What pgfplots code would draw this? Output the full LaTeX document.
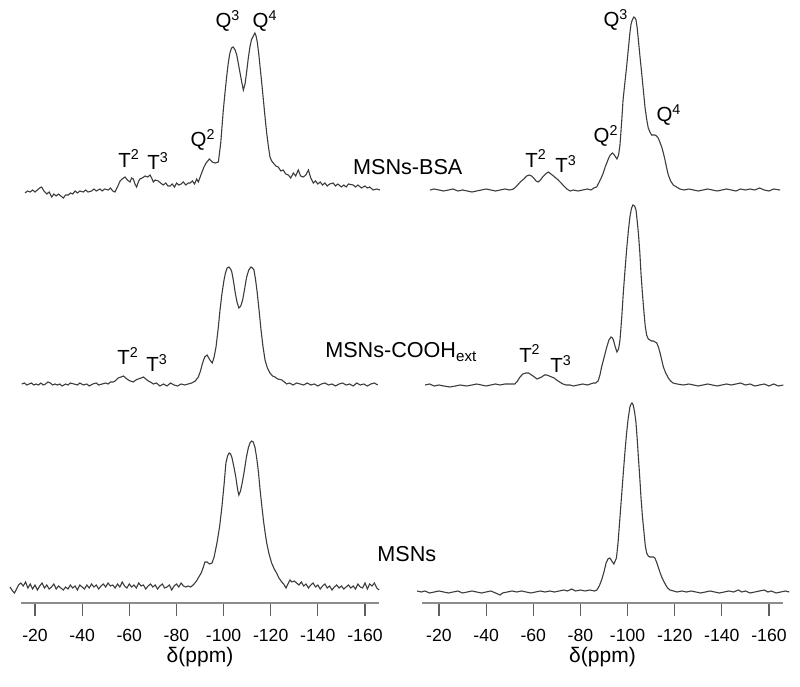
\documentclass[border=0pt]{standalone}
\usepackage{fontspec}
\setmainfont{Liberation Sans}
\usepackage{pgfplots}
\usepackage{pgfplotstable}
\pgfplotsset{compat=1.18}
\definecolor{spec}{HTML}{3C3C3C}
\definecolor{axgray}{HTML}{8C8C8C}
\definecolor{tickgray}{HTML}{606060}

% left panel: MSNs (A), MSNs-COOH (B), MSNs-BSA (C); intensity above baseline
\pgfplotstableread[row sep=\\]{
x y\\ -9.4 0\\ -10.5 -4\\ -11.3 -6\\ -12.2 -2\\ -13 2\\ -14 4\\ -15 1\\ -16 5\\ -17 -1\\ -18 3\\ -19 -2\\ -20 2\\ -21 -3\\ -22 1\\ -23 4\\ -24 -1\\ -25 2\\ -26 -2\\ -27 0\\ -28 3\\ -29 -2\\ -30 1\\ -31 -1\\ -32 -3\\ -33 0\\ -34 -2\\ -35 2\\ -36 -1\\ -37 1\\ -38 -3\\ -39 2\\ -40 0\\ -41 -2\\ -42 2\\ -43 -1\\ -44 3\\ -45 0\\ -46 2\\ -47 -2\\ -48 1\\ -49 3\\ -50 0\\ -51 4\\ -52 1\\ -53 2\\ -54 -1\\ -55 3\\ -56 0\\ -57 5\\ -58 1\\ -59 -1\\ -60 3\\ -61 0\\ -62 2\\ -63 -1\\ -64 4\\ -65 1\\ -66 2\\ -67 -2\\ -68 1\\ -69 3\\ -70 0\\ -71 2\\ -72 -2\\ -73 1\\ -74 3\\ -75 -1\\ -76 0\\ -77 2\\ -78 -3\\ -79 1\\ -80 3\\ -81 0\\ -82 4\\ -83 1\\ -84 0\\ -85 1\\ -86 0\\ -86.6 1\\ -87.5 3\\ -88.5 6\\ -89.5 10\\ -90.5 14\\ -91.3 19\\ -92.1 25\\ -93 25\\ -94 23\\ -95.1 24\\ -96 30\\ -97.2 44\\ -98.3 60\\ -99.3 80\\ -100.2 102\\ -101 124\\ -101.7 131\\ -102.4 134\\ -103 133\\ -103.6 129\\ -104.4 120\\ -105.2 110\\ -106 97\\ -106.5 92\\ -107.2 96\\ -107.9 104\\ -108.8 116\\ -109.7 130\\ -110.5 139\\ -111.2 144\\ -111.9 146\\ -112.6 145\\ -113.3 140\\ -114 130\\ -114.8 115\\ -115.5 97\\ -116.2 82\\ -116.9 67\\ -117.6 55\\ -118.3 44\\ -119.3 33\\ -120.4 24\\ -121.5 18\\ -122.5 14\\ -123.5 9\\ -124.7 5\\ -125.5 3\\ -126.5 -1\\ -127.3 3\\ -128.2 7\\ -129 5\\ -130 6\\ -131 4\\ -132 2\\ -133 5\\ -134 1\\ -135 3\\ -136 -1\\ -137 2\\ -138 4\\ -139 0\\ -140 2\\ -141 -2\\ -142 1\\ -143 3\\ -144 -1\\ -145 1\\ -146 -3\\ -147 0\\ -148 2\\ -149 -1\\ -150 1\\ -151 -2\\ -152 0\\ -153 2\\ -154 -1\\ -155 1\\ -156 -2\\ -157 3\\ -158 0\\ -159 -1\\ -160 4\\ -161 -2\\ -162 3\\ -163 1\\ -164 4\\ -165 -1\\ -166 -3\\
}\LA
\pgfplotstableread[row sep=\\]{
x y\\ -14.4 0\\ -15.5 1\\ -16.5 -1\\ -17.5 0\\ -18.5 1\\ -19.5 -1\\ -20.5 0\\ -21.5 -1\\ -22.5 1\\ -23.5 -1\\ -24.5 0\\ -25.5 2\\ -26.5 1\\ -27.5 -1\\ -28.5 0\\ -29.5 -1\\ -30.5 0\\ -31.5 -2\\ -33 0\\ -34 -1\\ -35 1\\ -36.5 0\\ -38 -1\\ -39 1\\ -40.5 -1\\ -42 0\\ -43 -2\\ -44.5 0\\ -46 1\\ -47 -1\\ -48.5 0\\ -50 1\\ -51 0\\ -52 2\\ -53.1 2\\ -54 3\\ -55.3 6\\ -56.5 7\\ -57.5 8\\ -58.5 6\\ -59.6 4\\ -60.5 3\\ -61.7 2\\ -62.8 4\\ -63.8 5\\ -65 6\\ -66 7\\ -67 5\\ -68.1 3\\ -69 2\\ -70.2 0\\ -71.5 1\\ -73 -2\\ -74.5 0\\ -76 -2\\ -77.5 1\\ -79 -1\\ -80.5 -2\\ -82 0\\ -83.5 -1\\ -85 0\\ -86.5 1\\ -88 3\\ -89.3 7\\ -90.2 13\\ -91.1 21\\ -92 27\\ -93 29\\ -94.2 24\\ -95.2 21\\ -96 27\\ -96.8 37\\ -97.7 55\\ -98.5 74\\ -99.3 90\\ -100.2 104\\ -100.8 111\\ -101.5 116\\ -102.3 117\\ -103 115\\ -103.5 112\\ -104.2 103\\ -104.9 92\\ -105.7 82\\ -106.5 76\\ -107.3 78\\ -108.1 84\\ -109 96\\ -109.8 107\\ -110.7 114\\ -111.6 117\\ -112.3 116\\ -112.9 114\\ -113.6 104\\ -114.3 91\\ -115.1 73\\ -115.9 54\\ -116.7 38\\ -117.6 24\\ -118.6 16\\ -119.7 11\\ -120.8 8\\ -121.8 7\\ -123 5\\ -124.7 4\\ -125.8 2\\ -126.8 0\\ -128 1\\ -129.5 -1\\ -131 1\\ -132.5 0\\ -134 -1\\ -135.5 1\\ -137 -1\\ -138.5 0\\ -140 -2\\ -141.5 0\\ -143 1\\ -144.5 -1\\ -146 0\\ -147.5 -2\\ -149 0\\ -150.5 1\\ -152 -1\\ -153.5 0\\ -155 -2\\ -156.5 1\\ -158 -1\\ -159.5 0\\ -161 -2\\ -162.5 0\\ -164 1\\ -165.4 -1\\
}\LB
\pgfplotstableread[row sep=\\]{
x y\\ -15.8 -3\\ -16.8 -1\\ -17.9 -2\\ -19 0\\ -20 -2\\ -21 0\\ -22 2\\ -22.8 3\\ -23.8 -1\\ -25 -4\\ -26 -2\\ -27.1 -7\\ -28 -4\\ -29 -6\\ -29.9 -4\\ -31 -6\\ -32 -8\\ -33 -5\\ -34.1 -5\\ -35 -3\\ -36 -4\\ -37 -1\\ -38 -3\\ -39 -1\\ -40.5 -2\\ -41.5 0\\ -42.5 -2\\ -44 -1\\ -45 1\\ -46 -1\\ -47.6 1\\ -48.5 -1\\ -49.5 1\\ -51.1 0\\ -52 2\\ -53 -1\\ -53.9 -2\\ -55 3\\ -56.1 9\\ -57 11\\ -58.2 13\\ -59.2 10\\ -60.3 8\\ -61 12\\ -61.7 11\\ -62.4 6\\ -63.1 3\\ -64 9\\ -64.5 11\\ -65.5 12\\ -66.7 14\\ -67.8 13\\ -68.8 15\\ -69.5 12\\ -70.2 8\\ -71 10\\ -72.3 9\\ -73.3 7\\ -74.4 5\\ -75.5 7\\ -76.4 4\\ -77.3 4\\ -78.2 6\\ -79.2 3\\ -80.1 7\\ -81 5\\ -82 6\\ -82.9 8\\ -84 5\\ -85 7\\ -85.8 7\\ -86.8 9\\ -87.7 6\\ -88.6 11\\ -89.3 8\\ -90.7 17\\ -91.7 23\\ -92.6 27\\ -94 31\\ -95.2 28\\ -96.4 27\\ -97.8 28\\ -98.8 47\\ -99.9 80\\ -100.6 97\\ -101.3 113\\ -102 127\\ -102.7 137\\ -103.4 142\\ -104.1 143\\ -104.9 140\\ -105.6 135\\ -106.3 126\\ -107 117\\ -107.7 108\\ -108.4 100\\ -109.1 106\\ -109.8 118\\ -110.5 132\\ -111.2 143\\ -111.8 150\\ -112.4 153\\ -113.3 157\\ -113.8 154\\ -114.3 148\\ -114.9 137\\ -115.5 123\\ -116.2 107\\ -116.9 90\\ -117.6 73\\ -118.3 57\\ -119 44\\ -119.7 33\\ -120.4 29\\ -121.1 27\\ -122.2 24\\ -123.2 23\\ -124.3 19\\ -125.3 20\\ -126.4 16\\ -127.5 15\\ -128.5 12\\ -129.6 17\\ -130.6 14\\ -131.7 20\\ -132.7 14\\ -133.8 13\\ -134.9 15\\ -136 20\\ -137 12\\ -138.1 7\\ -139 9\\ -140 6\\ -141 8\\ -142 5\\ -143 7\\ -144 4\\ -145 6\\ -146.5 7\\ -147.5 4\\ -148.5 6\\ -150 3\\ -151 5\\ -152 3\\ -153 6\\ -155 5\\ -156 3\\ -157 5\\ -158.5 2\\ -160 4\\ -161 2\\ -162 3\\ -163.5 0\\ -165 1\\ -166.4 0\\
}\LC
% right panel
\pgfplotstableread[row sep=\\]{
x y\\ -10.7 1\\ -12.5 0\\ -14 1\\ -16 -1\\ -18 0\\ -20 1\\ -22 0\\ -24 -1\\ -26 0\\ -28 1\\ -30 -1\\ -32 0\\ -34 1\\ -36 0\\ -38 -1\\ -40 0\\ -42 1\\ -44 -1\\ -45.9 -3\\ -47 -1\\ -49 0\\ -51 1\\ -53 0\\ -55 1\\ -57 0\\ -59 -1\\ -61 0\\ -63 1\\ -65 0\\ -67 1\\ -69 0\\ -71 1\\ -73 2\\ -74.5 1\\ -76.3 3\\ -78 1\\ -80 2\\ -82 1\\ -84 2\\ -86 1\\ -87 2\\ -88 6\\ -89 12\\ -90 20\\ -90.9 29\\ -91.7 33\\ -92.5 34\\ -93.3 31\\ -94.2 28\\ -95.3 34\\ -96 50\\ -96.8 75\\ -97.5 97\\ -98.2 119\\ -98.9 140\\ -99.6 159\\ -100.3 174\\ -101 185\\ -101.5 188\\ -101.9 189\\ -102.4 187\\ -103 180\\ -103.6 169\\ -104.1 153\\ -104.6 135\\ -105.2 114\\ -105.7 95\\ -106.3 76\\ -107 59\\ -107.5 47\\ -108.1 39\\ -108.8 36\\ -109.5 35\\ -110.4 35\\ -111 35\\ -111.6 34\\ -112.3 30\\ -113 25\\ -113.7 20\\ -114.5 15\\ -115.3 11\\ -116.2 7\\ -117 4\\ -118 2\\ -119.5 1\\ -121 0\\ -123 1\\ -125 0\\ -127 1\\ -129 0\\ -131 -1\\ -133 0\\ -135 1\\ -137 0\\ -139 -1\\ -141 0\\ -143 1\\ -145 0\\ -147 2\\ -148.5 0\\ -150 1\\ -152 -1\\ -154 0\\ -156 1\\ -158 2\\ -159.5 0\\ -161 1\\ -163 -1\\ -165 0\\ -167 1\\ -168.6 0\\
}\RA
\pgfplotstableread[row sep=\\]{
x y\\ -14.1 0\\ -16 1\\ -18 -1\\ -20 0\\ -22 -1\\ -24.7 -2\\ -27 -1\\ -29 0\\ -31.8 -1\\ -34 0\\ -36 1\\ -38 0\\ -40 -1\\ -42 0\\ -44 1\\ -46 0\\ -48 1\\ -50.1 1\\ -52.2 1\\ -53.3 4\\ -54.4 8\\ -55.6 11\\ -56.9 12\\ -58 12\\ -59.3 10\\ -60.5 8\\ -61.6 6\\ -62.6 7\\ -63.6 8\\ -64.7 10\\ -65.8 10\\ -66.8 9\\ -67.8 8\\ -68.9 7\\ -69.9 5\\ -71.2 3\\ -72.6 1\\ -74 0\\ -75.6 0\\ -77 -1\\ -79 0\\ -81 1\\ -83 0\\ -85.5 2\\ -86.5 2\\ -87.5 4\\ -88.3 10\\ -89 18\\ -90.1 28\\ -91.2 38\\ -92.1 45\\ -93 48\\ -93.6 47\\ -94 45\\ -94.8 38\\ -95.5 33\\ -96.2 36\\ -96.8 45\\ -97.5 66\\ -98.2 92\\ -98.9 114\\ -99.6 135\\ -100.3 153\\ -101 168\\ -101.7 177\\ -102.3 180\\ -103 179\\ -103.6 175\\ -104.1 164\\ -104.6 152\\ -105.2 133\\ -105.7 112\\ -106.3 92\\ -107 72\\ -107.5 59\\ -108.1 50\\ -108.8 46\\ -109.5 45\\ -110.2 44\\ -111 44\\ -111.7 43\\ -112.4 42\\ -113.1 38\\ -113.8 32\\ -114.5 25\\ -115.2 18\\ -116.2 12\\ -117.3 7\\ -118.3 4\\ -119.3 2\\ -121 1\\ -123.7 0\\ -126 1\\ -128 0\\ -130 -1\\ -132 0\\ -134 1\\ -136 0\\ -138 -1\\ -140 0\\ -142 1\\ -144 0\\ -146 1\\ -148 2\\ -150 0\\ -152 1\\ -154 -1\\ -156 0\\ -158 1\\ -160 -1\\ -162 1\\ -164 -1\\ -166.1 0\\
}\RB
\pgfplotstableread[row sep=\\]{
x y\\ -16.2 0\\ -18 1\\ -20 0\\ -22 -1\\ -24 0\\ -26 1\\ -28 -1\\ -30 0\\ -32 -1\\ -34 -2\\ -36 -1\\ -38 0\\ -40 1\\ -42 0\\ -44 -1\\ -46 0\\ -48 1\\ -50 0\\ -51.6 1\\ -53 4\\ -54.5 8\\ -56 11\\ -57.2 14\\ -58.3 15\\ -59.3 14\\ -60.2 12\\ -61.2 9\\ -62.1 8\\ -63 10\\ -64 13\\ -65.2 16\\ -66.4 18\\ -67.5 16\\ -68.6 14\\ -69.6 12\\ -70.6 10\\ -71.8 7\\ -73 4\\ -74.3 1\\ -75.6 -1\\ -77 0\\ -79 -1\\ -81 0\\ -83 1\\ -84.5 0\\ -85.7 2\\ -86.9 3\\ -88 8\\ -89 13\\ -89.7 17\\ -90.5 23\\ -91.2 27\\ -92 32\\ -92.7 35\\ -93.6 37\\ -94.4 35\\ -95.5 31\\ -96.2 35\\ -96.8 45\\ -97.5 68\\ -98.1 90\\ -98.9 108\\ -99.6 123\\ -100.3 140\\ -101 157\\ -101.5 166\\ -102 170\\ -102.7 173\\ -103.2 172\\ -103.6 170\\ -104.1 162\\ -104.6 150\\ -105.3 133\\ -106 117\\ -106.7 100\\ -107.4 83\\ -108.1 71\\ -108.8 62\\ -109.5 58\\ -110.2 55\\ -110.9 55\\ -111.6 55\\ -112.3 54\\ -113 52\\ -113.7 48\\ -114.5 43\\ -115.2 37\\ -115.9 30\\ -116.6 22\\ -117.3 15\\ -118.3 9\\ -119.4 5\\ -120.8 3\\ -122.2 1\\ -124 0\\ -126 1\\ -128 0\\ -130 -1\\ -132 0\\ -134 1\\ -136 0\\ -138 -1\\ -140 0\\ -142 1\\ -144 0\\ -146 -1\\ -148 1\\ -150 0\\ -152 1\\ -154 0\\ -156 2\\ -158 0\\ -160 -1\\ -162 1\\ -164.7 0\\
}\RC

\pgfplotsset{
  nmr/.style={
    scale only axis, height=301.5pt, ymin=0, ymax=603,
    x dir=reverse, clip=false,
    axis x line=bottom, axis y line=none,
    axis line style={-, draw=axgray, line width=0.7pt},
    xtick={-20,-40,-60,-80,-100,-120,-140,-160},
    xticklabels={-20,-40,-60,-80,-100,-120,-140,-160},
    xtick align=outside, major tick length=6.5pt,
    minor tick num=0,
    tick style={draw=tickgray, line width=0.6pt},
    xticklabel style={font=\fontsize{8.8}{10}\selectfont, text=black, yshift=-3.3pt},
    xlabel={δ(ppm)},
    xlabel style={font=\fontsize{10.5}{12}\selectfont, yshift=4.3pt},
  },
  sp/.style={draw=spec, line width=0.55pt, no markers},
}
\tikzset{
  pk/.style={font=\fontsize{10.2}{12}\selectfont, anchor=base, inner sep=0pt},
  nm/.style={font=\fontsize{10.8}{13}\selectfont, anchor=base west, inner sep=0pt},
}

\begin{document}
\begin{tikzpicture}
\path[use as bounding box] (0,0) rectangle (400pt,343.5pt);
\begin{axis}[nmr, at={(10.5pt,42pt)}, anchor=south west, width=179pt,
  xmin=-165.95, xmax=-14.06]
\addplot[sp] table[x=x, y expr=\thisrow{y}+16] {\LA};
\addplot[sp] table[x=x, y expr=\thisrow{y}+219] {\LB};
\addplot[sp] table[x=x, y expr=\thisrow{y}+413] {\LC};
\node[pk] at (axis cs:-101.9,575) {Q\textsuperscript{3}};
\node[pk] at (axis cs:-117.6,575) {Q\textsuperscript{4}};
\node[pk] at (axis cs:-91.3,456) {Q\textsuperscript{2}};
\node[pk] at (axis cs:-59.9,436) {T\textsuperscript{2}};
\node[pk] at (axis cs:-72.2,433) {T\textsuperscript{3}};
\node[pk] at (axis cs:-59.5,238) {T\textsuperscript{2}};
\node[pk] at (axis cs:-71.8,231) {T\textsuperscript{3}};
\node[nm] at (axis cs:-154.8,428.7) {MSNs-BSA};
\node[nm] at (axis cs:-143.0,245) {MSNs-COOH\textsubscript{ext}};
\node[nm] at (axis cs:-165.1,41) {MSNs};
\end{axis}
\begin{axis}[nmr, at={(211pt,42pt)}, anchor=south west, width=180.5pt,
  xmin=-165.95, xmax=-12.8]
\addplot[sp] table[x=x, y expr=\thisrow{y}+11] {\RA};
\addplot[sp] table[x=x, y expr=\thisrow{y}+218] {\RB};
\addplot[sp] table[x=x, y expr=\thisrow{y}+413] {\RC};
\node[pk] at (axis cs:-95.1,576) {Q\textsuperscript{3}};
\node[pk] at (axis cs:-117.6,481) {Q\textsuperscript{4}};
\node[pk] at (axis cs:-90.9,460) {Q\textsuperscript{2}};
\node[pk] at (axis cs:-61.2,436) {T\textsuperscript{2}};
\node[pk] at (axis cs:-73.9,430) {T\textsuperscript{3}};
\node[pk] at (axis cs:-58.6,241) {T\textsuperscript{2}};
\node[pk] at (axis cs:-71.8,230) {T\textsuperscript{3}};
\end{axis}
\end{tikzpicture}
\end{document}
